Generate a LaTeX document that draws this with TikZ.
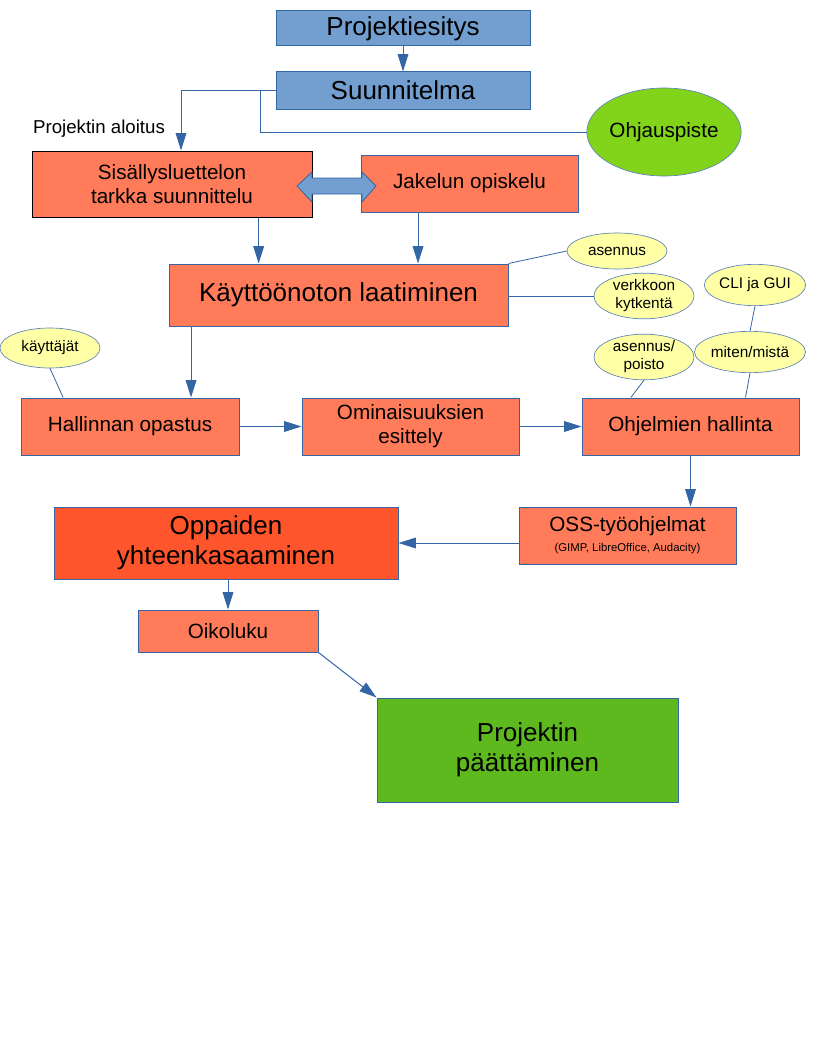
\documentclass[tikz,border=0pt]{standalone}
\usepackage{fontspec}
\setmainfont{Liberation Sans}
\usetikzlibrary{arrows.meta}
\usetikzlibrary{shapes.geometric}

\definecolor{reuna}{HTML}{3465A4}
\definecolor{sininen}{HTML}{729FCF}
\definecolor{lohi}{HTML}{FF7B59}
\definecolor{tiili}{HTML}{FF552C}
\definecolor{lime}{HTML}{81D41A}
\definecolor{vihrea}{HTML}{5EB91E}
\definecolor{keltainen}{HTML}{FFFFA6}

\begin{document}
\begin{tikzpicture}[x=0.75pt, y=-0.75pt,
        vaihe/.style={draw=reuna, line width=0.75pt, fill=lohi, inner sep=0pt, align=center,
                minimum width=162.75pt, minimum height=42.75pt,
                font=\fontsize{15.5}{18}\selectfont},
        iso/.style={vaihe, font=\fontsize{19.5}{22.5}\selectfont},
        huomio/.style={ellipse, draw=reuna!80, line width=0.5pt, fill=keltainen, inner sep=0pt,
                align=center, font=\fontsize{11.5}{13.5}\selectfont},
        nuoli/.style={draw=reuna, line width=0.75pt, -{Triangle[length=13pt, width=8pt]}},
        viiva/.style={draw=reuna, line width=0.6pt}]
        \useasboundingbox (0,0) rectangle (816,1056);
        \node[iso, fill=sininen, minimum width=190.5pt, minimum height=26.25pt] (esitys) at (403,28.5) {Projektiesitys};
        \node[iso, fill=sininen, minimum width=190.5pt, minimum height=27.75pt] (suunn) at (403,90.5) {Suunnitelma};
        \node[vaihe, fill=lime, ellipse, draw=reuna!80, line width=0.5pt,
                minimum width=107pt, minimum height=66pt] (ohjaus) at (664,132) {Ohjauspiste};
        \node[font=\fontsize{14}{16}\selectfont] (aloitus) at (99,129) {Projektin aloitus};
        \node[vaihe, draw=black, minimum width=210pt, minimum height=49.5pt] (sisallys) at (172,184) {Sisällysluettelon\\tarkka suunnittelu};
        \node[vaihe] (jakelu) at (469.5,183.5) {Jakelun opiskelu};
        \node[iso, minimum width=254.25pt, minimum height=46.5pt] (kaytto) at (338.5,295) {Käyttöönoton laatiminen};
        \node[huomio, minimum width=75pt, minimum height=27pt] (asennus) at (617,251) {asennus};
        \node[huomio, minimum width=75pt, minimum height=31pt] (verkko) at (644,296) {verkkoon\\kytkentä};
        \node[huomio, minimum width=74pt, minimum height=31pt] (cligui) at (755,285) {CLI ja GUI};
        \node[huomio, minimum width=76pt, minimum height=31pt] (miten) at (750,352) {miten/mistä};
        \node[huomio, minimum width=75pt, minimum height=29pt] (asepoi) at (644,357) {asennus/\\poisto};
        \node[huomio, minimum width=75pt, minimum height=30pt] (kayttajat) at (50,348) {käyttäjät};
        \node[vaihe, minimum width=163.5pt] (hallinta) at (130,426.5) {Hallinnan opastus};
        \node[vaihe] (ominais) at (410.5,426.5) {Ominaisuuksien\\esittely};
        \node[vaihe] (ohjelmat) at (690.5,426.5) {Ohjelmien hallinta};
        \node[vaihe] (oss) at (627.5,535.5) {OSS-työohjelmat\\[-3pt]{\fontsize{8.5}{10}\selectfont(GIMP, LibreOffice, Audacity)}};
        \node[iso, fill=tiili, minimum width=258pt, minimum height=54pt] (oppaat) at (226,543) {Oppaiden\\yhteenkasaaminen};
        \node[vaihe, minimum width=135pt, minimum height=31.5pt] (oikoluku) at (228,631) {Oikoluku};
        \node[iso, fill=vihrea, minimum width=225.75pt, minimum height=78pt] (lopetus) at (527.5,750) {Projektin\\päättäminen};

        \coordinate (haara) at (181,90.5);
        \coordinate (sivu) at (260,90.5);
        \draw[nuoli] (esitys) -- (suunn);
        \draw[nuoli] (suunn.west) -- (haara) -- (haara |- sisallys.north);
        \draw[viiva] (sivu) |- (ohjaus.west);
        \fill[sininen, draw=reuna, line width=0.6pt]
                (297,186) -- (312,172) -- (312,178) -- (362,178) -- (362,172) -- (376,186)
                -- (362,202) -- (362,194) -- (312,194) -- (312,202) -- cycle;
        \draw[nuoli] ([xshift=65pt]sisallys.south) coordinate (s1) -- (s1 |- kaytto.north);
        \draw[nuoli] ([xshift=-38.6pt]jakelu.south) coordinate (j1) -- (j1 |- kaytto.north);
        \draw[viiva] (kaytto.north east) -- (asennus.west);
        \draw[viiva] (kaytto.east |- verkko.west) -- (verkko.west);
        \draw[viiva] (cligui.south) -- (miten.north);
        \draw[viiva] (kayttajat.south) -- ([xshift=32pt]hallinta.north west);
        \draw[viiva] (asepoi.south) -- ([xshift=37pt]ohjelmat.north west);
        \draw[viiva] (miten.south) -- ([xshift=123pt]ohjelmat.north west);
        \draw[nuoli] ([xshift=-110.6pt]kaytto.south) coordinate (k1) -- (k1 |- hallinta.north);
        \draw[nuoli] (hallinta) -- (ominais);
        \draw[nuoli] (ominais) -- (ohjelmat);
        \draw[nuoli] (ohjelmat) -- (ohjelmat |- oss.north);
        \draw[nuoli] (oss.west |- oppaat.east) -- (oppaat.east);
        \draw[nuoli] (oppaat.south -| oikoluku) -- (oikoluku.north);
        \draw[nuoli] (oikoluku.south east) -- (lopetus.north west);
\end{tikzpicture}
\end{document}
